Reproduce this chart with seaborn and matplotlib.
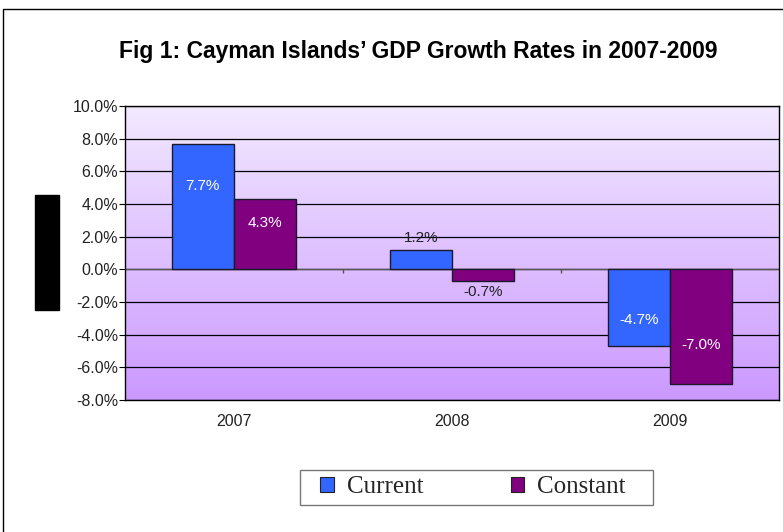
import numpy as np
import pandas as pd
import matplotlib.pyplot as plt
import seaborn as sns
from matplotlib.patches import Rectangle
from matplotlib.colors import LinearSegmentedColormap

# Data
years = ["2007", "2008", "2009"]
current = [7.7, 1.2, -4.7]
constant = [4.3, -0.7, -7.0]
series_names = ["Current", "Constant"]
series_colors = ["#3366FF", "#800080"]
y_ticks = [10, 8, 6, 4, 2, 0, -2, -4, -6, -8]

df = pd.DataFrame({
    "year": years * 2,
    "value": current + constant,
    "series": [series_names[0]] * 3 + [series_names[1]] * 3,
})

sns.set_theme(style="white")
plt.rcParams["font.family"] = ["Liberation Sans", "DejaVu Sans"]

fig = plt.figure(figsize=(7.83, 5.32), dpi=100)
ax = fig.add_axes([0.1596, 0.2481, 0.835, 0.5526])

# gradient plot area
grad = LinearSegmentedColormap.from_list("bg", ["#F2E9FF", "#CC99FF"])
ax.imshow(np.linspace(0, 1, 256).reshape(-1, 1), cmap=grad, aspect="auto",
          extent=[-0.5, 2.5, -8, 10], zorder=0)

sns.barplot(data=df, x="year", y="value", hue="series", palette=series_colors,
            saturation=1, width=0.57, edgecolor="#1a1a2a", linewidth=1,
            ax=ax, zorder=3, legend=True)

ax.set_xlim(-0.5, 2.5)
ax.set_ylim(-8, 10)
ax.set_yticks(y_ticks)
ax.set_yticklabels([f"{t:.1f}%" for t in y_ticks], fontsize=11.5, color="#222222")
for t in y_ticks:
    ax.axhline(t, color="black", linewidth=0.9, zorder=1)
ax.axhline(0, color="#555555", linewidth=1, zorder=2)
ax.vlines([0.5, 1.5], -0.25, 0, color="#555555", linewidth=1, zorder=2)

ax.tick_params(axis="y", left=True, length=4, width=0.8, color="black", pad=1)
ax.tick_params(axis="x", bottom=False, length=0, pad=10, labelsize=11.5,
               labelcolor="#222222")
ax.set_xlabel("")
ax.set_ylabel("")
for s in ax.spines.values():
    s.set_color("black")
    s.set_linewidth(1)

# value labels
for cont, vals in zip(ax.containers, [current, constant]):
    for bar, v in zip(cont, vals):
        x = bar.get_x() + bar.get_width() / 2
        if abs(v) < 2:
            y = v + (0.7 if v > 0 else -0.7)
            ax.text(x, y, f"{v:.1f}%", ha="center", va="center", fontsize=11,
                    color="#222222", zorder=5)
        else:
            ax.text(x, v * 0.66, f"{v:.1f}%", ha="center", va="center",
                    fontsize=11, color="white", zorder=5)

leg = ax.legend(loc="center", bbox_to_anchor=(0.604, 0.0846),
                bbox_transform=fig.transFigure, ncol=2, frameon=False,
                handlelength=0.55, handleheight=0.55, handletextpad=0.5,
                columnspacing=3.5, prop={"family": "Liberation Serif", "size": 18})
for h in leg.legend_handles:
    h.set_edgecolor("#222222")
    h.set_linewidth(0.8)
# legend box
fig.patches.append(Rectangle((300 / 783, 1 - 505 / 532), 353 / 783, 35 / 532,
                             transform=fig.transFigure, fill=False,
                             edgecolor="#777777", linewidth=1))

fig.text(0.534, 0.903, "Fig 1: Cayman Islands\u2019 GDP Growth Rates in 2007-2009",
         ha="center", va="center", fontsize=16.5, fontweight="bold",
         color="black")

# black block left of the axis
fig.patches.append(Rectangle((35 / 783, 1 - 310 / 532), 24 / 783, 115 / 532,
                             transform=fig.transFigure, color="black"))
# outer frame (right and bottom sides fall outside the image)
fig.patches.append(Rectangle((3 / 783, 1 - 540 / 532), 790 / 783, 531 / 532,
                             transform=fig.transFigure, fill=False,
                             edgecolor="black", linewidth=1, clip_on=False))

fig.savefig("out.png", dpi=100)
